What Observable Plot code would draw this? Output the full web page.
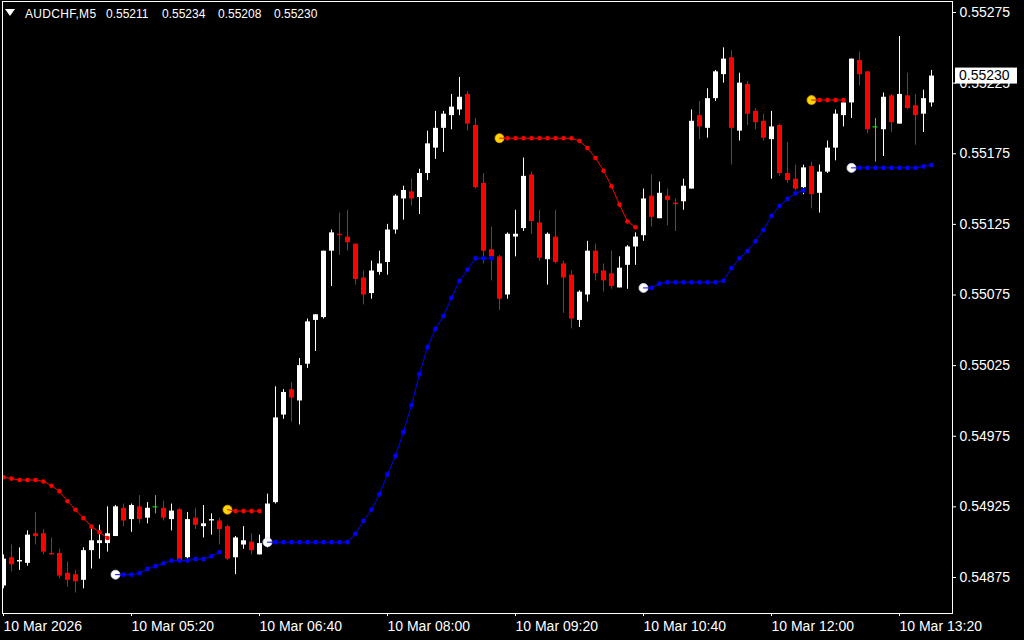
<!DOCTYPE html>
<html><head><meta charset="utf-8">
<script src="https://cdn.jsdelivr.net/npm/d3@7"></script>
<script src="https://cdn.jsdelivr.net/npm/@observablehq/plot@0.6"></script>
<style>
html,body{margin:0;padding:0;background:#000;overflow:hidden}
#wrap{position:relative;width:1024px;height:640px;background:#000}
#title{position:absolute;left:0;top:0;width:400px;height:24px;color:#fff;font-family:"Liberation Sans",Arial,sans-serif;font-size:12px;line-height:12px}
#title span{position:absolute;top:8px;white-space:nowrap}
#tri{position:absolute;left:5px;top:9px;width:0;height:0;border-left:5px solid transparent;border-right:5px solid transparent;border-top:7px solid #fff}
</style></head><body><div id="wrap"></div>
<script>
const symbolName = "AUDCHF,M5";
const open = [0.54869,0.54889,0.54886,0.54885,0.54906,0.54906,0.54892,0.54892,0.54878,0.54877,
0.54873,0.54894,0.54899,0.54899,0.54904,0.54924,0.54916,0.54925,0.54917,0.54925,
0.54924,0.54916,0.54923,0.54889,0.54917,0.54911,0.54915,0.54915,0.54911,0.54889,
0.54898,0.54900,0.54891,0.54897,0.54928,0.54990,0.55008,0.55000,0.55026,0.55057,
0.55059,0.55106,0.55118,0.55116,0.55111,0.55087,0.55076,0.55091,0.55098,0.55121,
0.55143,0.55148,0.55144,0.55161,0.55179,0.55193,0.55202,0.55206,0.55217,0.55195,
0.55154,0.55107,0.55102,0.55075,0.55116,0.55122,0.55160,0.55126,0.55100,0.55116,
0.55097,0.55089,0.55057,0.55075,0.55106,0.55092,0.55090,0.55080,0.55096,0.55109,
0.55117,0.55145,0.55129,0.55145,0.55140,0.55141,0.55150,0.55202,0.55193,0.55214,
0.55231,0.55243,0.55191,0.55224,0.55205,0.55198,0.55185,0.55195,0.55161,0.55157,
0.55151,0.55166,0.55147,0.55162,0.55179,0.55202,0.55211,0.55241,0.55233,0.55194,
0.55192,0.55216,0.55196,0.55216,0.55209,0.55203,0.55211];
const high = [0.54891,0.54898,0.54896,0.54908,0.54921,0.54909,0.54903,0.54895,0.54886,0.54880,
0.54896,0.54910,0.54912,0.54925,0.54926,0.54927,0.54927,0.54933,0.54928,0.54933,
0.54929,0.54927,0.54924,0.54921,0.54924,0.54926,0.54920,0.54917,0.54912,0.54904,
0.54911,0.54906,0.54905,0.54934,0.55010,0.55008,0.55013,0.55030,0.55058,0.55061,
0.55106,0.55121,0.55133,0.55135,0.55111,0.55092,0.55099,0.55106,0.55125,0.55146,
0.55152,0.55157,0.55164,0.55191,0.55205,0.55205,0.55217,0.55229,0.55219,0.55200,
0.55161,0.55123,0.55103,0.55119,0.55135,0.55172,0.55162,0.55135,0.55119,0.55135,
0.55099,0.55092,0.55078,0.55113,0.55111,0.55097,0.55106,0.55102,0.55110,0.55119,
0.55150,0.55160,0.55155,0.55150,0.55143,0.55157,0.55206,0.55212,0.55221,0.55234,
0.55250,0.55248,0.55232,0.55226,0.55207,0.55203,0.55205,0.55196,0.55183,0.55167,
0.55167,0.55169,0.55167,0.55184,0.55206,0.55211,0.55242,0.55247,0.55233,0.55200,
0.55218,0.55217,0.55258,0.55232,0.55217,0.55220,0.55234];
const low = [0.54867,0.54879,0.54880,0.54883,0.54898,0.54891,0.54891,0.54874,0.54868,0.54864,
0.54867,0.54881,0.54888,0.54893,0.54904,0.54911,0.54907,0.54913,0.54913,0.54920,
0.54915,0.54908,0.54886,0.54888,0.54909,0.54903,0.54905,0.54898,0.54887,0.54877,
0.54895,0.54891,0.54891,0.54896,0.54927,0.54987,0.54985,0.54983,0.55023,0.55035,
0.55058,0.55081,0.55103,0.55106,0.55082,0.55068,0.55072,0.55089,0.55089,0.55118,
0.55128,0.55138,0.55132,0.55156,0.55171,0.55176,0.55192,0.55202,0.55191,0.55150,
0.55097,0.55085,0.55064,0.55072,0.55102,0.55120,0.55118,0.55099,0.55082,0.55097,
0.55062,0.55051,0.55052,0.55070,0.55085,0.55077,0.55079,0.55080,0.55079,0.55096,
0.55113,0.55123,0.55129,0.55124,0.55120,0.55135,0.55150,0.55185,0.55186,0.55212,
0.55225,0.55167,0.55184,0.55195,0.55192,0.55184,0.55157,0.55159,0.55154,0.55149,
0.55146,0.55136,0.55133,0.55161,0.55170,0.55194,0.55200,0.55223,0.55189,0.55169,
0.55173,0.55190,0.55196,0.55206,0.55181,0.55190,0.55208];
const close = [0.54888,0.54884,0.54887,0.54905,0.54904,0.54893,0.54891,0.54876,0.54873,0.54872,
0.54894,0.54901,0.54901,0.54906,0.54925,0.54915,0.54926,0.54916,0.54924,0.54925,
0.54917,0.54922,0.54887,0.54916,0.54912,0.54913,0.54916,0.54909,0.54888,0.54903,
0.54901,0.54894,0.54899,0.54927,0.54988,0.55006,0.55002,0.55025,0.55056,0.55061,
0.55106,0.55119,0.55117,0.55112,0.55086,0.55075,0.55092,0.55097,0.55121,0.55145,
0.55149,0.55143,0.55161,0.55182,0.55193,0.55203,0.55208,0.55215,0.55196,0.55151,
0.55106,0.55102,0.55072,0.55118,0.55118,0.55159,0.55127,0.55101,0.55118,0.55098,
0.55087,0.55058,0.55077,0.55106,0.55090,0.55085,0.55081,0.55094,0.55109,0.55116,
0.55143,0.55130,0.55147,0.55142,0.55139,0.55152,0.55198,0.55194,0.55214,0.55233,
0.55242,0.55193,0.55225,0.55203,0.55197,0.55186,0.55194,0.55161,0.55156,0.55150,
0.55165,0.55146,0.55162,0.55179,0.55203,0.55211,0.55242,0.55231,0.55192,0.55194,
0.55215,0.55197,0.55217,0.55207,0.55202,0.55214,0.55230];
// trailing stop indicator, one value per bar
const stopLine = [0.54946,0.54945,0.54944,0.54944,0.54944,0.54943,0.54940,0.54936,0.54929,0.54923,0.54917,0.54911,0.54907,0.54903,
0.54877,0.54877,0.54877,0.54878,0.54881,0.54883,0.54885,0.54887,0.54887,0.54887,0.54888,0.54888,0.54890,0.54893,
0.54923,0.54922,0.54922,0.54922,0.54922,
0.54900,0.54900,0.54900,0.54900,0.54900,0.54900,0.54900,0.54900,0.54900,0.54900,0.54900,
0.54906,0.54915,0.54923,0.54934,0.54948,0.54961,0.54978,0.54997,0.55019,0.55038,0.55051,0.55060,0.55073,0.55085,0.55093,0.55101,0.55101,0.55101,
0.55186,0.55186,0.55186,0.55186,0.55186,0.55186,0.55186,0.55186,0.55186,0.55186,0.55184,0.55179,0.55172,0.55163,0.55152,0.55139,0.55127,0.55123,
0.55080,0.55080,0.55083,0.55084,0.55084,0.55084,0.55084,0.55084,0.55084,0.55084,0.55085,0.55094,0.55101,0.55106,0.55113,0.55121,0.55131,0.55138,0.55143,0.55147,0.55149,
0.55213,0.55213,0.55213,0.55213,0.55213,
0.55165,0.55165,0.55165,0.55165,0.55165,0.55165,0.55165,0.55165,0.55165,0.55166,0.55167];
const segStart = [0, 14, 28, 33, 62, 80, 101, 106];
const segTrend = ["down","up","down","up","down","up","down","up"];
const yTicks = [0.54875,0.54925,0.54975,0.55025,0.55075,0.55125,0.55175,0.55225,0.55275];
const xTickBars = [0,16,32,48,64,80,96,112];
const xTickLabels = ["10 Mar 2026","10 Mar 05:20","10 Mar 06:40","10 Mar 08:00","10 Mar 09:20","10 Mar 10:40","10 Mar 12:00","10 Mar 13:20"];

const step = 5*60*1000;
const t0 = Date.UTC(2026,2,10,4,0);
const time = i => new Date(t0 + i*step);
const COL = {up:"#FFFFFF", down:"#FF0000", doji:"#00FF00"};
const candles = open.map((o,i)=>({t:time(i), o, h:high[i], l:low[i], c:close[i],
  col: close[i]>o ? COL.up : close[i]<o ? COL.down : COL.doji}));
const bodies = candles.filter(d=>d.o!==d.c);
const dojis = candles.filter(d=>d.o===d.c);
const half = step*2.5/8;
let s = -1;
const pts = stopLine.map((v,i)=>{
  const j = segStart.indexOf(i); if (j>=0) s = j;
  return {t:time(i), v, seg:s, trend:segTrend[s], marker: j>0};
});
const markers = pts.filter(d=>d.marker);
const dots = pts.filter(d=>!d.marker);
const lineCol = d => d.trend==="down" ? "#FF0000" : "#0000FF";
const labelMap = new Map(xTickBars.map((b,i)=>[+time(b), xTickLabels[i]]));

const chart = Plot.plot({
  width:1024, height:640,
  marginLeft:2, marginRight:72, marginTop:1, marginBottom:27,
  style:{background:"#000", color:"#fff", fontFamily:"'Liberation Sans', Arial, sans-serif", fontSize:"14px"},
  x:{type:"time", domain:[new Date(t0 - step/8), new Date(t0 + step*118.625)], label:null},
  y:{domain:[0.5484951, 0.5528279], label:null},
  color:{type:"identity"},
  marks:[
    Plot.ruleX(candles, {x:"t", y1:"l", y2:"h", stroke:"col", strokeWidth:1, clip:true}),
    Plot.ruleX(bodies, {x:"t", y1:"o", y2:"c", stroke:"col", strokeWidth:5, clip:true}),
    Plot.ruleY(dojis, {y:"o", x1:d=>new Date(+d.t-half), x2:d=>new Date(+d.t+half), stroke:"col", strokeWidth:1}),
    Plot.dot(markers, {x:"t", y:"v", r:4.5, fill:d=>d.trend==="down"?"#FFD700":"#FFFFFF", stroke:d=>d.trend==="down"?"#E8A000":"#E0E0FF", strokeWidth:0.8}),
    Plot.line(pts, {x:"t", y:"v", z:"seg", stroke:lineCol, strokeWidth:1, clip:true}),
    Plot.dot(dots.filter(d=>d.trend==="down"), {x:"t", y:"v", r:2.3, fill:"#FF0000", stroke:"none", clip:true}),
    Plot.dot(dots.filter(d=>d.trend==="up"), {x:"t", y:"v", r:2.4, fill:"#0000FF", stroke:"none", clip:true}),
    Plot.frame({stroke:"#fff"}),
    Plot.axisX({ticks:xTickBars.map(time), tickSize:3, tickPadding:5, textAnchor:"start", tickFormat:d=>labelMap.get(+d), label:null, fontSize:14}),
    Plot.axisY({anchor:"right", ticks:yTicks, tickSize:3, tickPadding:4, tickFormat:d3.format(".5f"), label:null, fontSize:14})
  ]
});
document.getElementById("wrap").appendChild(chart);

// current price box on the price axis
const lastC = close[close.length-1];
const yv = chart.scale("y").apply(lastC);
const g = d3.select(chart).append("g");
g.append("rect").attr("x",955).attr("y",yv-8).attr("width",62).attr("height",16).attr("fill","#fff");
g.append("text").attr("x",959).attr("y",yv).attr("dy","0.35em").attr("fill","#000")
  .attr("text-anchor","start")
  .attr("font-size",14).attr("font-family","'Liberation Sans', Arial, sans-serif").text(d3.format(".5f")(lastC));

// title
const title = document.createElement("div");
title.id = "title";
const n = open.length-1;
const ohlc = [open[n], high[n], low[n], close[n]].map(d3.format(".5f"));
title.innerHTML = '<div id="tri"></div><span style="left:25px;letter-spacing:0.3px">'+symbolName+'</span>' +
  ohlc.map((p,i)=>'<span style="left:'+(106+i*56)+'px">'+p+'</span>').join("");
document.getElementById("wrap").appendChild(title);
</script></body></html>
